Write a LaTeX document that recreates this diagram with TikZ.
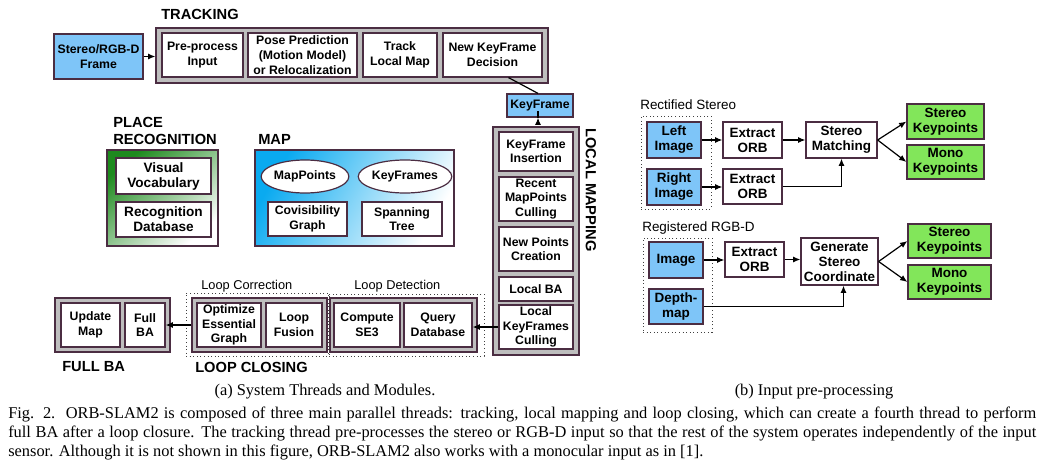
\documentclass[tikz,border=0pt]{standalone}
\usepackage{fontspec}
\setmainfont{Liberation Sans}
\newfontfamily\serifcap{Liberation Serif}
\usetikzlibrary{shapes.geometric,arrows.meta,calc}
\definecolor{bord}{HTML}{4B2D42}
\definecolor{grayf}{HTML}{BEBEBE}
\definecolor{bluef}{HTML}{7EC5F8}
\definecolor{greenf}{HTML}{82E65A}
\definecolor{gdark}{HTML}{1E8A1E}
\definecolor{bdark}{HTML}{0AAAF0}
\newcommand\bx[7]{\node[#2, minimum width={(#5-#3)*0.75pt}, minimum height={(#6-#4)*0.75pt}] (#1) at ({(#3+#5)/2},{(#4+#6)/2}) {#7};}
\tikzset{
  base/.style={draw=bord, line width=0.9pt, inner sep=0pt, align=center},
  wbox/.style={base, fill=white, font=\bfseries\fontsize{9.2}{11}\selectfont},
  wboxm/.style={base, fill=white, font=\bfseries\fontsize{10.2}{11.25}\selectfont},
  wboxl/.style={base, fill=white, font=\bfseries\fontsize{10.1}{11.25}\selectfont},
  bluebox/.style={wbox, fill=bluef},
  blueboxl/.style={wboxl, fill=bluef},
  greenboxl/.style={wboxl, fill=greenf},
  gbox/.style={base, fill=grayf},
  dotbox/.style={draw=black!75, dotted, line width=0.7pt, inner sep=0pt},
  heading/.style={inner sep=0pt, anchor=west, font=\bfseries\fontsize{11}{12.75}\selectfont, align=left},
  plainlbl/.style={inner sep=0pt, anchor=west, font=\fontsize{9.6}{11}\selectfont},
  rlbl/.style={inner sep=0pt, anchor=west, font=\fontsize{10.1}{11}\selectfont},
  arr/.style={-{Latex[length=5.5pt,width=4.5pt]}, line width=0.9pt, draw=black},
  ln/.style={line width=0.9pt, draw=black},
  ell/.style={ellipse, draw=bord, line width=0.9pt, fill=white, inner sep=0pt, font=\bfseries\fontsize{9.2}{11}\selectfont},
  capline/.style={inner sep=0pt, anchor=base west, font=\serifcap\fontsize{12.3}{14.25}\selectfont},
}
\begin{document}
\begin{tikzpicture}[x=0.75pt,y=-0.75pt]
\useasboundingbox (0,0) rectangle (1044,467);

% ---------------- TRACKING
\node[heading] (trklbl) at (161,14) {TRACKING};
\bx{trk}{gbox}{156}{28}{548}{83}{}
\bx{srgbd}{bluebox}{54}{34}{143}{79}{Stereo/RGB-D\\Frame}
\bx{pre}{wbox}{162}{33}{243}{77}{Pre-process\\Input}
\bx{pose}{wbox}{248}{33}{357}{77}{Pose Prediction\\(Motion Model)\\or Relocalization}
\bx{tlm}{wbox}{363}{33}{437}{77}{Track\\Local Map}
\bx{nkf}{wbox}{443}{33}{542}{77}{New KeyFrame\\Decision}
\bx{kf}{bluebox}{507}{94}{573}{117}{KeyFrame}
\draw[arr] (srgbd.east) -- (srgbd.east -| trk.west);
\draw[ln] ($(nkf.south)+(16,0)$) -- ($(kf.north)+(-2,0)$);

% ---------------- LOCAL MAPPING
\bx{lm}{gbox}{493}{127}{579}{355}{}
\bx{kfi}{wbox}{499}{132}{573}{171}{KeyFrame\\Insertion}
\bx{rmc}{wbox}{499}{177}{573}{221}{Recent\\MapPoints\\Culling}
\bx{npc}{wbox}{499}{227}{573}{271}{New Points\\Creation}
\bx{lba}{wbox}{499}{277}{573}{301}{Local BA}
\bx{lkc}{wbox}{499}{305}{573}{349}{Local\\KeyFrames\\Culling}
\node[inner sep=0pt, rotate=-90, font=\bfseries\fontsize{11}{12.75}\selectfont] (lmlbl) at (591,190) {LOCAL MAPPING};
\draw[arr] ($(kf.south)+(-2,0)$) -- ($(kf.south)+(-2,0)$ |- lm.north);

% ---------------- PLACE RECOGNITION
\node[heading] (prlbl) at (113,130.5) {PLACE\\RECOGNITION};
\node[base, top color=gdark, bottom color=white, shading angle=40,
  minimum width={111*0.75pt}, minimum height={96*0.75pt}] (pr) at (162.5,198) {};
\bx{vv}{wboxm}{116}{158}{211}{194}{Visual\\Vocabulary}
\bx{rd}{wboxm}{116}{202}{211}{237}{Recognition\\Database}

% ---------------- MAP
\node[heading] (maplbl) at (258,139) {MAP};
\node[base, top color=bdark, bottom color=white, shading angle=60,
  minimum width={199*0.75pt}, minimum height={96*0.75pt}] (map) at (354.5,198) {};
\node[ell, minimum width={86*0.75pt}, minimum height={33*0.75pt}] (mp) at (305,176.5) {MapPoints};
\node[ell, minimum width={86*0.75pt}, minimum height={33*0.75pt}] (kfs) at (405,176.5) {KeyFrames};
\bx{cg}{wbox}{268}{202}{347}{236}{Covisibility\\Graph}
\bx{st}{wbox}{362}{202}{442}{236}{Spanning\\Tree}

% ---------------- FULL BA
\bx{fbag}{gbox}{55}{298}{170}{352}{}
\bx{um}{wbox}{61}{303}{120}{347}{Update\\Map}
\bx{fb}{wbox}{125}{303}{165}{347}{Full\\BA}
\node[heading] (fbalbl) at (62,367) {FULL BA};

% ---------------- LOOP CLOSING
\bx{lcg}{gbox}{192}{298}{327}{352}{}
\bx{ldg}{gbox}{330}{298}{477}{352}{}
\bx{lcd}{dotbox}{186}{293}{328}{356}{}
\bx{ldd}{dotbox}{329}{294}{484}{356}{}
\bx{oeg}{wbox}{197}{303}{261}{347}{Optimize\\Essential\\Graph}
\bx{lf}{wbox}{266}{303}{322}{347}{Loop\\Fusion}
\bx{cse}{wbox}{334}{303}{400}{347}{Compute\\SE3}
\bx{qd}{wbox}{404}{303}{472}{347}{Query\\Database}
\node[plainlbl] (lclbl) at (201,286) {Loop Correction};
\node[plainlbl] (ldlbl) at (354,286) {Loop Detection};
\node[heading] (lclosing) at (195,367) {LOOP CLOSING};
\draw[arr] (lkc.west) -- (lkc.west -| qd.east);
\draw[arr] (lcg.west) -- (lcg.west -| fb.east);

% ---------------- RECTIFIED STEREO
\node[rlbl] (rslbl) at (640,105) {Rectified Stereo};
\bx{rsd}{dotbox}{641}{116}{711}{209}{}
\bx{li}{blueboxl}{647}{122}{701}{158}{Left\\Image}
\bx{ri}{blueboxl}{647}{169}{701}{205}{Right\\Image}
\bx{eo1}{wboxl}{723}{122}{782}{158}{Extract\\ORB}
\bx{eo2}{wboxl}{723}{169}{782}{204}{Extract\\ORB}
\bx{sm}{wboxl}{806}{122}{877}{158}{Stereo\\Matching}
\bx{sk1}{greenboxl}{907}{104}{984}{139}{Stereo\\Keypoints}
\bx{mk1}{greenboxl}{907}{145}{984}{179}{Mono\\Keypoints}
\draw[arr] (li.east) -- (li.east -| eo1.west);
\draw[arr] (ri.east) -- (ri.east -| eo2.west);
\draw[arr] (eo1.east) -- (eo1.east -| sm.west);
\draw[arr] (eo2.east) -| (sm.south);
\draw[arr] (sm.east) -- (sk1.west);
\draw[arr] (sm.east) -- (mk1.west);

% ---------------- REGISTERED RGB-D
\node[rlbl] (rrlbl) at (642,228) {Registered RGB-D};
\bx{rrd}{dotbox}{643}{238}{712}{332}{}
\bx{im}{blueboxl}{649}{242}{703}{278}{Image}
\bx{dm}{blueboxl}{649}{289}{703}{324}{Depth-\\map}
\bx{eo3}{wboxl}{725}{242}{784}{277}{Extract\\ORB}
\bx{gsc}{wboxl}{801}{238}{878}{285}{Generate\\Stereo\\Coordinate}
\bx{sk2}{greenboxl}{908}{224}{991}{258}{Stereo\\Keypoints}
\bx{mk2}{greenboxl}{908}{265}{991}{299}{Mono\\Keypoints}
\draw[arr] (im.east) -- (im.east -| eo3.west);
\draw[arr] (eo3.east) -- (eo3.east -| gsc.west);
\draw[arr] (dm.east) -| ($(gsc.south)+(4,0)$);
\draw[arr] (gsc.east) -- (sk2.west);
\draw[arr] (gsc.east) -- (mk2.west);

% ---------------- CAPTIONS
\node[inner sep=0pt, font=\serifcap\fontsize{12.3}{14}\selectfont] (capa) at (325,392) {(a) System Threads and Modules.};
\node[inner sep=0pt, font=\serifcap\fontsize{12.3}{14}\selectfont] (capb) at (814,392) {(b) Input pre-processing};
\node[capline] (cap1) at (8,418) {\makebox[771pt][s]{Fig. 2.\ \ ORB-SLAM2 is composed of three main parallel threads: tracking, local mapping and loop closing, which can create a fourth thread to perform}};
\node[capline] (cap2) at (8,437) {\makebox[771pt][s]{full BA after a loop closure. The tracking thread pre-processes the stereo or RGB-D input so that the rest of the system operates independently of the input}};
\node[capline] (cap3) at (8,456) {sensor. Although it is not shown in this figure, ORB-SLAM2 also works with a monocular input as in [1].};
\end{tikzpicture}
\end{document}
